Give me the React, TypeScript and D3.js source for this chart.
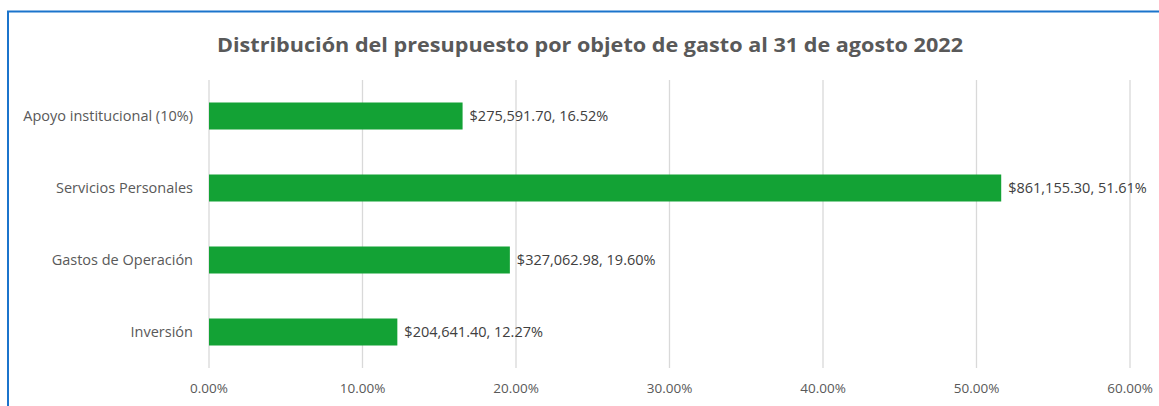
import { useEffect, useRef } from 'react'
import * as d3 from 'd3'

const CATEGORIES = ['Apoyo institucional (10%)', 'Servicios Personales', 'Gastos de Operación', 'Inversión']
const AMOUNTS = ['$275,591.70', '$861,155.30', '$327,062.98', '$204,641.40']
const SHARES = [16.52, 51.61, 19.6, 12.27]
const TICKS = [0, 10, 20, 30, 40, 50, 60]

const TITLE = 'Distribución del presupuesto por objeto de gasto al 31 de agosto 2022'

export default function App() {
  const svgRef = useRef<SVGSVGElement>(null)

  useEffect(() => {
    if (!svgRef.current) return
    const svg = d3.select(svgRef.current)
    svg.selectAll('*').remove()

    const W = 1159
    const H = 406
    const margin = { top: 80, right: 29, bottom: 38, left: 209 }
    const width = W - margin.left - margin.right
    const height = H - margin.top - margin.bottom
    const font = '"Open Sans", "Liberation Sans", Arial, sans-serif'

    svg.attr('width', W).attr('height', H).attr('viewBox', `0 0 ${W} ${H}`)

    svg.append('rect').attr('width', W).attr('height', H).attr('fill', '#fff')

    // chart frame (selected, runs past the picture)
    svg.append('rect')
      .attr('x', 8).attr('y', 11.5)
      .attr('width', W + 20).attr('height', H + 20)
      .attr('fill', 'none')
      .attr('stroke', '#1b74cc')
      .attr('stroke-width', 2)

    svg.append('text')
      .attr('x', 590)
      .attr('y', 52)
      .attr('text-anchor', 'middle')
      .attr('font-family', font)
      .attr('font-size', 19.5)
      .attr('font-weight', 700)
      .attr('fill', '#595959')
      .attr('textLength', 746)
      .attr('lengthAdjust', 'spacingAndGlyphs')
      .text(TITLE)

    const g = svg.append('g').attr('transform', `translate(${margin.left},${margin.top})`)

    const x = d3.scaleLinear().domain([0, 60]).range([0, width])
    const y = d3.scaleBand<string>()
      .domain(CATEGORIES)
      .range([0, height])
      .paddingInner(0.625)
      .paddingOuter(0.3125)

    // gridlines
    g.append('g')
      .selectAll('line')
      .data(TICKS)
      .join('line')
      .attr('x1', (d) => x(d)).attr('x2', (d) => x(d))
      .attr('y1', 0).attr('y2', height)
      .attr('stroke', '#d9d9d9')
      .attr('stroke-width', 1.3)

    // x tick labels
    g.append('g')
      .selectAll('text')
      .data(TICKS)
      .join('text')
      .attr('x', (d) => x(d))
      .attr('y', height + 25)
      .attr('text-anchor', 'middle')
      .attr('font-family', font)
      .attr('font-size', 13.5)
      .attr('fill', '#595959')
      .text((d) => `${d.toFixed(2)}%`)

    // bars
    g.append('g')
      .selectAll('rect')
      .data(CATEGORIES)
      .join('rect')
      .attr('x', x(0))
      .attr('y', (d) => y(d)!)
      .attr('width', (_, i) => x(SHARES[i]) - x(0))
      .attr('height', y.bandwidth())
      .attr('fill', '#13a235')

    // data labels
    g.append('g')
      .selectAll('text')
      .data(CATEGORIES)
      .join('text')
      .attr('x', (_, i) => x(SHARES[i]) + 7)
      .attr('y', (d) => y(d)! + y.bandwidth() / 2)
      .attr('dy', '0.35em')
      .attr('font-family', font)
      .attr('font-size', 14.5)
      .attr('fill', '#404040')
      .text((_, i) => `${AMOUNTS[i]}, ${SHARES[i].toFixed(2)}%`)

    // category labels
    g.append('g')
      .selectAll('text')
      .data(CATEGORIES)
      .join('text')
      .attr('x', -16)
      .attr('y', (d) => y(d)! + y.bandwidth() / 2)
      .attr('dy', '0.35em')
      .attr('text-anchor', 'end')
      .attr('font-family', font)
      .attr('font-size', 14.5)
      .attr('fill', '#595959')
      .text((d) => d)
  }, [])

  return (
    <svg
      ref={svgRef}
      style={{ position: 'absolute', left: 0, top: 0, display: 'block' }}
    />
  )
}
